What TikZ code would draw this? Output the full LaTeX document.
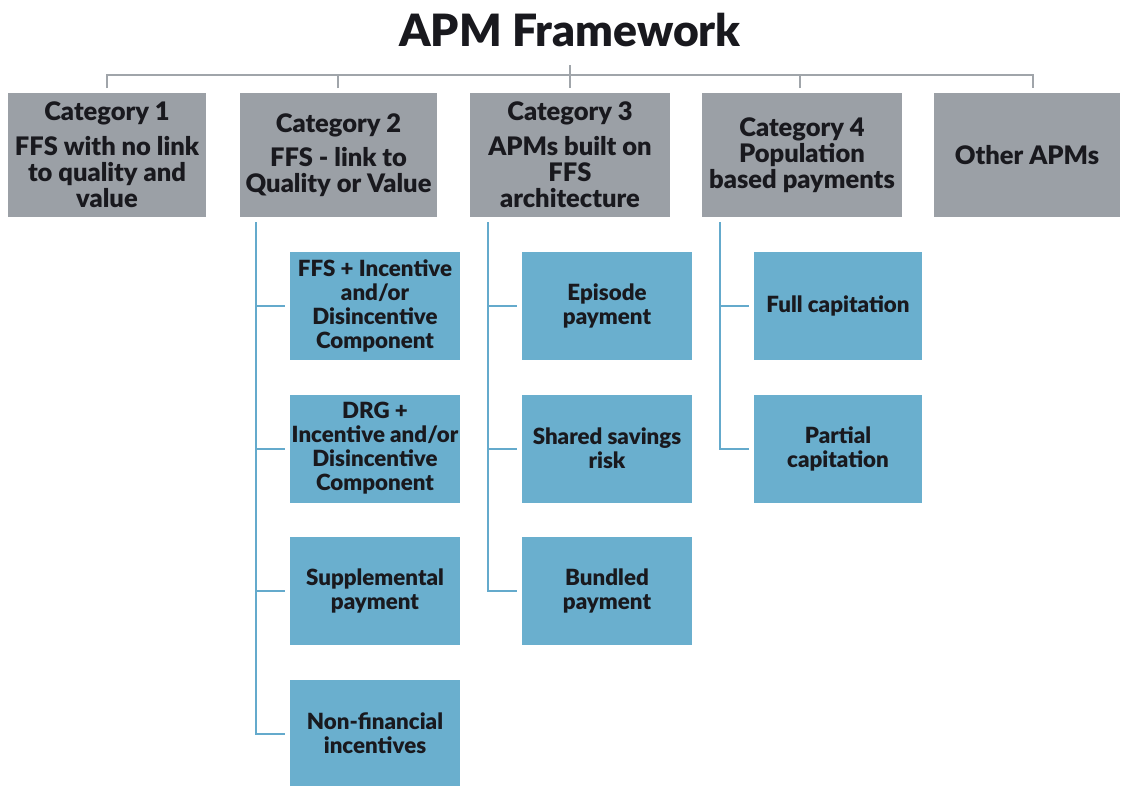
\documentclass[tikz,border=0pt]{standalone}
\usepackage{fontspec}
\setmainfont{Lato}[BoldFont={Lato Black}]
\definecolor{catgray}{RGB}{155,160,166}
\definecolor{subblue}{RGB}{106,175,206}
\definecolor{glinec}{RGB}{160,165,170}
\definecolor{blinec}{RGB}{100,170,204}
\definecolor{txt}{RGB}{25,25,30}
\begin{document}
\begin{tikzpicture}[x=1pt,y=-1pt,
  catbox/.style={fill=catgray, draw=none, inner sep=0pt, minimum height=124pt,
    align=center, text=txt, font=\fontsize{25.5}{26}\selectfont\bfseries},
  subbox/.style={fill=subblue, draw=none, inner sep=0pt, minimum width=170pt, minimum height=108pt,
    align=center, text=txt, font=\fontsize{22.3}{24}\selectfont\bfseries},
  gline/.style={draw=glinec, line width=2pt},
  bline/.style={draw=blinec, line width=2pt},
  titletext/.style={text=txt, font=\fontsize{44.5}{50}\selectfont\bfseries}]
\useasboundingbox (0,0) rectangle (1122,785);
\fill[white] (0,0) rectangle (1122,785);

\node[titletext] (title) at (570,30) {APM Framework};

% category boxes
\node[catbox, minimum width=198pt] (c1) at (107,155) {Category 1\\[9pt]FFS with no link\\to quality and\\value};
\node[catbox, minimum width=197pt] (c2) at (338.5,155) {Category 2\\[8pt]FFS - link to\\Quality or Value};
\node[catbox, minimum width=200pt] (c3) at (570,155) {Category 3\\[9pt]APMs built on\\FFS\\architecture};
\node[catbox, minimum width=200pt] (c4) at (802,155) {Category 4\\Population\\based payments};
\node[catbox, minimum width=186pt] (c5) at (1027,155) {Other APMs};

% top bus
\coordinate (bus) at (570,75);
\coordinate (tt) at (570,65);
\coordinate (t1) at (107,88);
\coordinate (t2) at (338,88);
\coordinate (t3) at (570,88);
\coordinate (t4) at (800,88);
\coordinate (t5) at (1033,88);
\draw[gline] (t1) |- (bus) -| (t5);
\draw[gline] (t2) -- (t2 |- bus);
\draw[gline] (tt) -- (t3);
\draw[gline] (t4) -- (t4 |- bus);

% category 2 children
\node[subbox] (a1) at (375,306) {FFS + Incentive\\and/or\\Disincentive\\Component};
\node[subbox] (a2) at (375,448.5) {DRG +\\Incentive and/or\\Disincentive\\Component};
\node[subbox] (a3) at (375,591) {Supplemental\\payment};
\node[subbox] (a4) at (375,733.5) {Non-financial\\incentives};

% category 3 children
\node[subbox] (b1) at (607,306) {Episode\\payment};
\node[subbox] (b2) at (607,448.5) {Shared savings\\risk};
\node[subbox] (b3) at (607,591) {Bundled\\payment};

% category 4 children
\node[subbox, minimum width=168pt] (d1) at (838,306) {Full capitation};
\node[subbox, minimum width=168pt] (d2) at (838,448.5) {Partial\\capitation};

% blue connectors
\coordinate (s2) at (256,222);
\coordinate (s3) at (488,222);
\coordinate (s4) at (720,222);
\draw[bline] (s2) |- ([xshift=-5pt]a4.west);
\draw[bline] (s2 |- a1.west) -- ([xshift=-5pt]a1.west);
\draw[bline] (s2 |- a2.west) -- ([xshift=-5pt]a2.west);
\draw[bline] (s2 |- a3.west) -- ([xshift=-5pt]a3.west);
\draw[bline] (s3) |- ([xshift=-5pt]b3.west);
\draw[bline] (s3 |- b1.west) -- ([xshift=-5pt]b1.west);
\draw[bline] (s3 |- b2.west) -- ([xshift=-5pt]b2.west);
\draw[bline] (s4) |- ([xshift=-5pt]d2.west);
\draw[bline] (s4 |- d1.west) -- ([xshift=-5pt]d1.west);
\end{tikzpicture}
\end{document}
